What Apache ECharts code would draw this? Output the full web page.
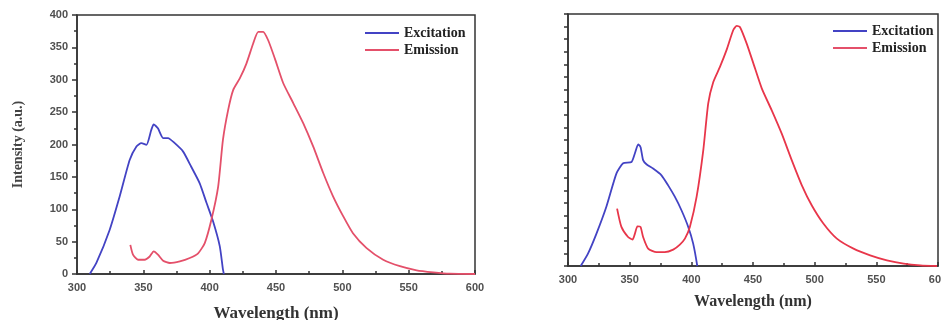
<!DOCTYPE html>
<html>
<head>
<meta charset="utf-8">
<script src="https://cdn.jsdelivr.net/npm/echarts@6/dist/echarts.min.js"></script>
<style>html,body{margin:0;padding:0;background:#fff}#c{width:941px;height:320px}</style>
</head>
<body>
<div id="c"></div>
<script>
var xTicks = [300, 350, 400, 450, 500, 550, 600];
var leftYTicks = [0, 50, 100, 150, 200, 250, 300, 350, 400];

var leftExcitation = [[309.6,0],[314.6,17],[324.6,68],[332.2,120],[339.7,176],[344.8,197],[348.5,202],[352.3,199.5],[356,222.6],[357.8,231],[361,225],[364.9,210],[368.6,210],[373.7,202],[380,189],[386,166],[392.5,140],[397.6,110],[402.6,81],[407.6,43],[410,7],[410.7,0]];
var leftEmission = [[340.2,45],[342.2,30],[346,22],[351,22],[354.8,27],[357.8,35],[361,30],[364.9,20.6],[370,17],[377.5,19.5],[385,24.7],[391.3,32],[396.3,47.8],[401.3,83.8],[406.4,135],[410,207],[413.9,253],[417.7,284],[422.7,302],[427.7,325],[432.8,356],[436.6,374],[440.3,374],[444.1,361],[449.1,333],[455.4,295],[463,264],[470.5,233],[478,197],[485.6,156],[493,120],[500.7,89],[508,63],[518.3,40],[530.8,22],[543.4,12],[556,5.7],[568.6,2.6],[581,0.5],[600,0]];

var rightExcitation = [[310.3,0],[316.2,19.6],[323,51],[331.1,94],[339.3,147],[344.7,163],[351.5,165],[354.2,178.5],[356.9,193],[358.8,189],[360.9,168],[363.6,161.6],[369,154.7],[375.8,144],[381.2,128],[386.6,110],[392,88.5],[397.5,62],[401.5,35.5],[404.8,0]];
var rightEmission = [[339.8,91],[343.3,62],[348.7,46],[352.3,42],[354.2,51],[356.3,63],[358.8,62],[360.9,46],[365,27.5],[371.8,22],[378.5,22],[385.3,26],[390.7,34],[394.8,43.5],[398.8,62],[404.3,110],[409.7,184],[413.7,258],[417.8,292],[423.2,316],[428.6,343],[434,374.6],[436.8,381],[439.5,379],[444.9,353],[450.3,321.6],[457.1,282],[465.2,247],[473.3,210],[481.4,168],[489.6,128],[497.7,96],[507.2,67],[518,43.4],[531.5,27.5],[545,17],[558.6,9],[572.2,3.7],[585.7,1],[599.2,0]];

var BLUE = '#4343c4', RED = '#e8364a', RED2 = '#e4506a';
var labelFont = {fontFamily:'Liberation Sans', fontWeight:'bold', fontSize:11, color:'#505050'};

function xAxis(gi, gap, fs, margin){
  return {type:'value', gridIndex:gi, min:xTicks[0], max:xTicks[xTicks.length-1], interval:50,
    name:'Wavelength (nm)', nameLocation:'middle', nameGap:gap,
    nameTextStyle:{fontFamily:'Liberation Serif', fontWeight:'bold', fontSize:fs, color:'#333'},
    axisLine:{lineStyle:{color:'#333', width:1.5}},
    axisTick:{inside:true, length:4, lineStyle:{color:'#333', width:1.5}},
    minorTick:{show:true, splitNumber:2, length:3, lineStyle:{color:'#333', width:1.5}},
    axisLabel:Object.assign({margin:margin}, labelFont),
    splitLine:{show:false}};
}

var chart = echarts.init(document.getElementById('c'));
chart.setOption({
  animation:false,
  grid:[
    {left:77, right:466, top:15, bottom:46, show:true, borderColor:'#333', borderWidth:1.5, containLabel:false, outerBoundsMode:'none'},
    {left:568, right:3, top:14, bottom:54, show:true, borderColor:'#333', borderWidth:1.5, containLabel:false, outerBoundsMode:'none'}
  ],
  legend:[
    {left:360, top:21, orient:'vertical', itemGap:3, itemWidth:34, itemHeight:2, icon:'rect',
     textStyle:{fontFamily:'Liberation Serif', fontWeight:'bold', fontSize:14, color:'#222'},
     data:['Excitation','Emission']},
    {left:828, top:19, orient:'vertical', itemGap:3, itemWidth:34, itemHeight:2, icon:'rect',
     textStyle:{fontFamily:'Liberation Serif', fontWeight:'bold', fontSize:14, color:'#222'},
     data:['Excitation','Emission']}
  ],
  xAxis:[xAxis(0, 31, 17, 8), xAxis(1, 28, 16, 8)],
  yAxis:[
    {type:'value', gridIndex:0, min:leftYTicks[0], max:leftYTicks[leftYTicks.length-1], interval:50,
     name:'Intensity (a.u.)', nameLocation:'middle', nameGap:52, nameRotate:90,
     nameTextStyle:{fontFamily:'Liberation Serif', fontWeight:'bold', fontSize:14, color:'#444'},
     axisLine:{show:true, lineStyle:{color:'#333', width:1.5}},
     axisTick:{show:true, length:5, lineStyle:{color:'#333', width:1.5}},
     minorTick:{show:true, splitNumber:2, length:3, lineStyle:{color:'#333', width:1.5}},
     axisLabel:Object.assign({margin:9}, labelFont),
     splitLine:{show:false}},
    {type:'value', gridIndex:1, min:0, max:400, interval:40,
     axisLine:{show:true, lineStyle:{color:'#333', width:1.5}},
     axisTick:{show:true, length:4, lineStyle:{color:'#333', width:1.5}},
     minorTick:{show:true, splitNumber:2, length:4, lineStyle:{color:'#333', width:1.5}},
     axisLabel:{show:false},
     splitLine:{show:false}}
  ],
  series:[
    {name:'Excitation', type:'line', xAxisIndex:0, yAxisIndex:0, data:leftExcitation, smooth:0.2, showSymbol:false, lineStyle:{color:BLUE, width:1.8}, itemStyle:{color:BLUE}},
    {name:'Emission', type:'line', xAxisIndex:0, yAxisIndex:0, data:leftEmission, smooth:0.2, showSymbol:false, lineStyle:{color:RED2, width:1.8}, itemStyle:{color:RED2}},
    {name:'Excitation', type:'line', xAxisIndex:1, yAxisIndex:1, data:rightExcitation, smooth:0.2, showSymbol:false, lineStyle:{color:BLUE, width:1.8}, itemStyle:{color:BLUE}},
    {name:'Emission', type:'line', xAxisIndex:1, yAxisIndex:1, data:rightEmission, smooth:0.2, showSymbol:false, lineStyle:{color:RED, width:1.8}, itemStyle:{color:RED}}
  ]
});
</script>
</body>
</html>
